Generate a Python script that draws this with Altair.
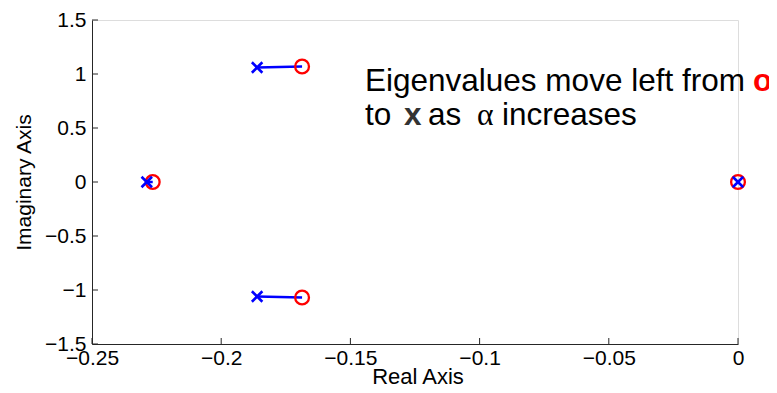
import altair as alt
import pandas as pd

# Eigenvalue trajectories: start (circle, small alpha) -> end (cross, larger alpha)
group = ["upper", "lower", "real", "origin"]
re_start = [-0.1687, -0.1687, -0.2265, 0.0]
im_start = [1.07, -1.07, 0.0, 0.0]
re_end = [-0.1861, -0.1861, -0.2288, 0.0]
im_end = [1.06, -1.06, 0.0, 0.0]

x_ticks = [-0.25, -0.2, -0.15, -0.1, -0.05, 0]
y_ticks = [-1.5, -1, -0.5, 0, 0.5, 1, 1.5]

x_title = "Real Axis"
y_title = "Imaginary Axis"

line1 = "Eigenvalues move left from"
line1_mark = "o"
line2_a = "to"
line2_mark = "x"
line2_b = "as"
line2_alpha = "α"
line2_c = "increases"

W, H = 646, 324
FONT = "Liberation Sans"
AXC = "#262626"

starts = pd.DataFrame({"g": group, "re": re_start, "im": im_start, "o": 0})
ends = pd.DataFrame({"g": group, "re": re_end, "im": im_end, "o": 1})
paths = pd.concat([starts, ends], ignore_index=True)

xs = alt.Scale(domain=[-0.25, 0], nice=False, zero=False)
ys = alt.Scale(domain=[-1.5, 1.5], nice=False, zero=False)

xaxis = alt.Axis(values=x_ticks, ticks=False, grid=False, labelFontSize=21, labelFont=FONT,
                 labelExpr="format(datum.value, '~g')", labelFlush=False, labelOverlap=False,
                 labelColor="black", domainColor=AXC, labelPadding=3, title=None)
yaxis = alt.Axis(values=y_ticks, ticks=False, grid=False, labelFontSize=21, labelFont=FONT,
                 labelExpr="format(datum.value, '~g')", labelFlush=False, labelOverlap=False,
                 labelColor="black", domainColor=AXC, labelPadding=6, title=y_title,
                 titleFont=FONT, titleFontSize=21, titleFontWeight="normal", titleColor="black",
                 titlePadding=10)

lines = alt.Chart(paths).mark_line(color="#0000FF", strokeWidth=2.5).encode(
    x=alt.X("re:Q", scale=xs, axis=xaxis),
    y=alt.Y("im:Q", scale=ys, axis=yaxis),
    detail="g:N",
    order="o:Q",
)

circles = alt.Chart(starts).mark_point(shape="circle", color="#FF0000", size=190,
                                       strokeWidth=2.3, filled=False, opacity=1).encode(
    x=alt.X("re:Q", scale=xs), y=alt.Y("im:Q", scale=ys))

crosses = alt.Chart(ends).mark_point(shape="M-1,-1L1,1M-1,1L1,-1", color="#0000FF", size=110,
                                     strokeWidth=2.6, filled=False, opacity=1).encode(
    x=alt.X("re:Q", scale=xs), y=alt.Y("im:Q", scale=ys))

xt = alt.Chart(pd.DataFrame({"v": x_ticks})).mark_rule(color=AXC, strokeWidth=1).encode(
    x=alt.X("v:Q", scale=xs), y=alt.value(H), y2=alt.value(H - 6))
yt = alt.Chart(pd.DataFrame({"v": y_ticks})).mark_rule(color=AXC, strokeWidth=1).encode(
    y=alt.Y("v:Q", scale=ys), x=alt.value(0), x2=alt.value(6))

def txt(s, x, y, color="black", weight="normal", font=FONT, size=31.5, align="left"):
    return alt.Chart(pd.DataFrame({"t": [s]})).mark_text(
        align=align, baseline="alphabetic", fontSize=size, font=font, fontWeight=weight,
        color=color).encode(text="t:N", x=alt.value(x), y=alt.value(y))

notes = [
    txt(line1, 273, 71),
    txt(line1_mark, 661, 71, color="#FF0000", weight="bold"),
    txt(line2_a, 273, 105),
    txt(line2_mark, 312, 105, color="#333333", weight="bold"),
    txt(line2_b, 336, 105),
    txt(line2_alpha, 385, 105, font="Liberation Serif"),
    txt(line2_c, 410, 105),
    txt(x_title, W / 2 + 3, H + 40, size=22, align="center"),
]

chart = alt.layer(lines, xt, yt, circles, crosses, *notes).properties(
    width=W, height=H,
    autosize=alt.AutoSizeParams(type="none"),
    padding={"left": 84, "top": 12, "right": 31, "bottom": 41},
).configure_view(stroke=None).configure(background="white")

chart.save("out.html", embed_options={"renderer": "svg", "actions": False})
